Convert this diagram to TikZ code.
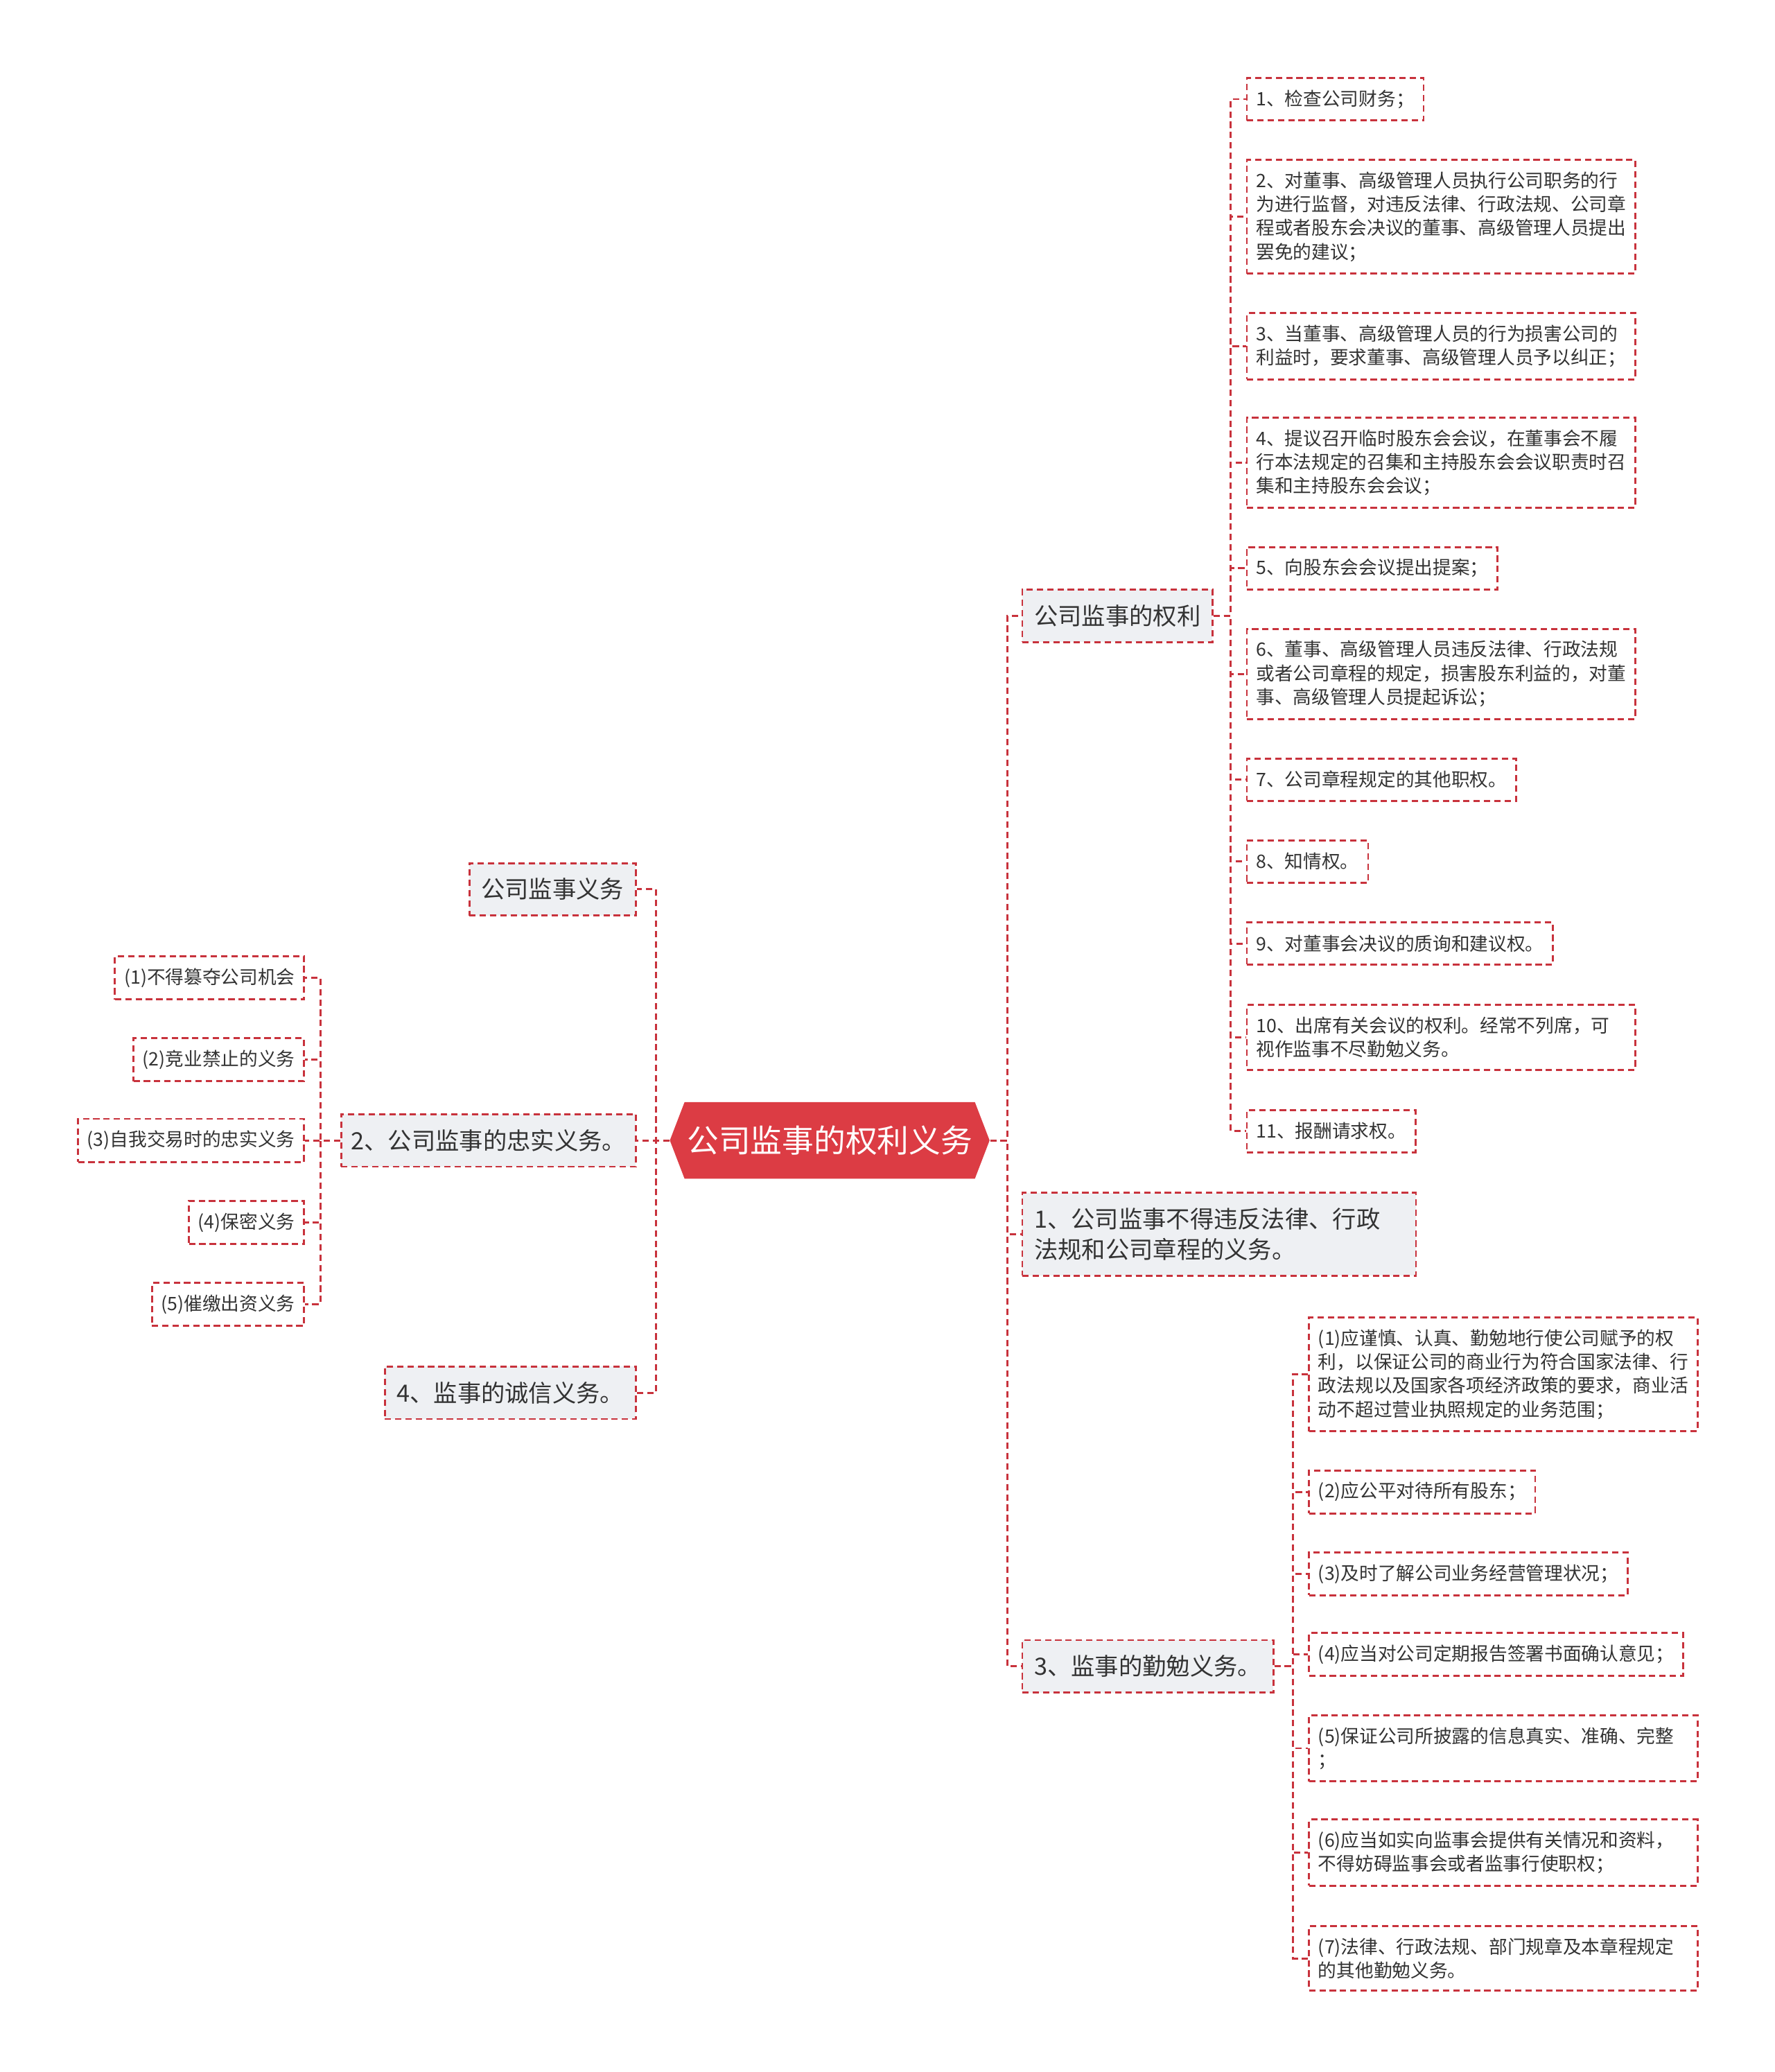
\documentclass[tikz,border=0pt]{standalone}
\usepackage{fontspec}
\setmainfont{Noto Sans CJK SC}
\usetikzlibrary{shapes.symbols}
\definecolor{linered}{RGB}{200,50,60}
\definecolor{rootred}{RGB}{220,60,68}
\definecolor{boxgray}{RGB}{238,240,243}
\definecolor{txt}{RGB}{51,51,51}

\begin{document}
\begin{tikzpicture}[x=.5pt,y=-.5pt,
 dsh/.style={draw=linered,line width=.75pt,dash pattern=on 2.4pt off 1.5pt},
 link/.style={dsh},
 rootnode/.style={signal,signal to=east and west,signal pointer angle=138,fill=rootred,text=white,font=\fontsize{12}{14}\selectfont,minimum width=121pt,minimum height=29pt,inner sep=0pt},
 branch/.style={dsh,fill=boxgray,text=txt,font=\fontsize{9}{11.5}\selectfont,inner xsep=4.5pt,inner ysep=5.75pt,align=left},
 leaf/.style={dsh,fill=white,text=txt,font=\fontsize{7}{9}\selectfont,inner xsep=3.5pt,inner ysep=4.5pt,minimum height=16pt,align=left},
 wide/.style={text width=140pt}]
\useasboundingbox(0,0)rectangle(1343,1568);
\node[rootnode](root)at(628,863){公司监事的权利义务};
% right side
\node[branch,anchor=west](qli)at(773,466){公司监事的权利};
\node[branch,anchor=west,wide](bd)at(773,934){1、公司监事不得违反法律、行政\\法规和公司章程的义务。};
\node[branch,anchor=west](qm)at(773,1261){3、监事的勤勉义务。};
% left side
\node[branch,anchor=east](yw)at(482,673){公司监事义务};
\node[branch,anchor=east,inner xsep=3.75pt](zs)at(482,863){2、公司监事的忠实义务。};
\node[branch,anchor=east](cx)at(482,1054){4、监事的诚信义务。};
% rights
\node[leaf,anchor=west](q1)at(943,75){1、检查公司财务；};
\node[leaf,anchor=west,wide](q2)at(943,164){2、对董事、高级管理人员执行公司职务的行\\为进行监督，对违反法律、行政法规、公司章\\程或者股东会决议的董事、高级管理人员提出\\罢免的建议；};
\node[leaf,anchor=west,wide](q3)at(943,262){3、当董事、高级管理人员的行为损害公司的\\利益时，要求董事、高级管理人员予以纠正；};
\node[leaf,anchor=west,wide](q4)at(943,350){4、提议召开临时股东会会议，在董事会不履\\行本法规定的召集和主持股东会会议职责时召\\集和主持股东会会议；};
\node[leaf,anchor=west](q5)at(943,430){5、向股东会会议提出提案；};
\node[leaf,anchor=west,wide](q6)at(943,510){6、董事、高级管理人员违反法律、行政法规\\或者公司章程的规定，损害股东利益的，对董\\事、高级管理人员提起诉讼；};
\node[leaf,anchor=west](q7)at(943,590){7、公司章程规定的其他职权。};
\node[leaf,anchor=west](q8)at(943,652){8、知情权。};
\node[leaf,anchor=west](q9)at(943,714){9、对董事会决议的质询和建议权。};
\node[leaf,anchor=west,wide](q10)at(943,785){10、出席有关会议的权利。经常不列席，可\\视作监事不尽勤勉义务。};
\node[leaf,anchor=west](q11)at(943,856){11、报酬请求权。};
% diligence
\node[leaf,anchor=west,wide](m1)at(990,1040){(1)应谨慎、认真、勤勉地行使公司赋予的权\\利，以保证公司的商业行为符合国家法律、行\\政法规以及国家各项经济政策的要求，商业活\\动不超过营业执照规定的业务范围；};
\node[leaf,anchor=west](m2)at(990,1129){(2)应公平对待所有股东；};
\node[leaf,anchor=west](m3)at(990,1191){(3)及时了解公司业务经营管理状况；};
\node[leaf,anchor=west](m4)at(990,1252){(4)应当对公司定期报告签署书面确认意见；};
\node[leaf,anchor=west,wide](m5)at(990,1323){(5)保证公司所披露的信息真实、准确、完整\\；};
\node[leaf,anchor=west,wide](m6)at(990,1402){(6)应当如实向监事会提供有关情况和资料，\\不得妨碍监事会或者监事行使职权；};
\node[leaf,anchor=west,wide](m7)at(990,1482){(7)法律、行政法规、部门规章及本章程规定\\的其他勤勉义务。};
% loyalty
\node[leaf,anchor=east](z1)at(231,740){(1)不得篡夺公司机会};
\node[leaf,anchor=east](z2)at(231,802){(2)竞业禁止的义务};
\node[leaf,anchor=east](z3)at(231,863){(3)自我交易时的忠实义务};
\node[leaf,anchor=east](z4)at(231,925){(4)保密义务};
\node[leaf,anchor=east](z5)at(231,987){(5)催缴出资义务};
% connectors
\draw[link](root.east)--++(13,0)|-(qli.west);\draw[link](root.east)--++(13,0)|-(bd.west);\draw[link](root.east)--++(13,0)|-(qm.west);
\draw[link](root.west)--++(-10,0)|-(yw.east);\draw[link](root.west)--++(-10,0)|-(zs.east);\draw[link](root.west)--++(-10,0)|-(cx.east);
\draw[link](qli.east)--++(13,0)|-(q1.west);\draw[link](qli.east)--++(13,0)|-(q2.west);\draw[link](qli.east)--++(13,0)|-(q3.west);
\draw[link](qli.east)--++(13,0)|-(q4.west);\draw[link](qli.east)--++(13,0)|-(q5.west);\draw[link](qli.east)--++(13,0)|-(q6.west);
\draw[link](qli.east)--++(13,0)|-(q7.west);\draw[link](qli.east)--++(13,0)|-(q8.west);\draw[link](qli.east)--++(13,0)|-(q9.west);
\draw[link](qli.east)--++(13,0)|-(q10.west);\draw[link](qli.east)--++(13,0)|-(q11.west);
\draw[link](qm.east)--++(14,0)|-(m1.west);\draw[link](qm.east)--++(14,0)|-(m2.west);\draw[link](qm.east)--++(14,0)|-(m3.west);
\draw[link](qm.east)--++(14,0)|-(m4.west);\draw[link](qm.east)--++(14,0)|-(m5.west);\draw[link](qm.east)--++(14,0)|-(m6.west);
\draw[link](qm.east)--++(14,0)|-(m7.west);
\draw[link](zs.west)--++(-15,0)|-(z1.east);\draw[link](zs.west)--++(-15,0)|-(z2.east);\draw[link](zs.west)--++(-15,0)|-(z3.east);
\draw[link](zs.west)--++(-15,0)|-(z4.east);\draw[link](zs.west)--++(-15,0)|-(z5.east);
\end{tikzpicture}
\end{document}
